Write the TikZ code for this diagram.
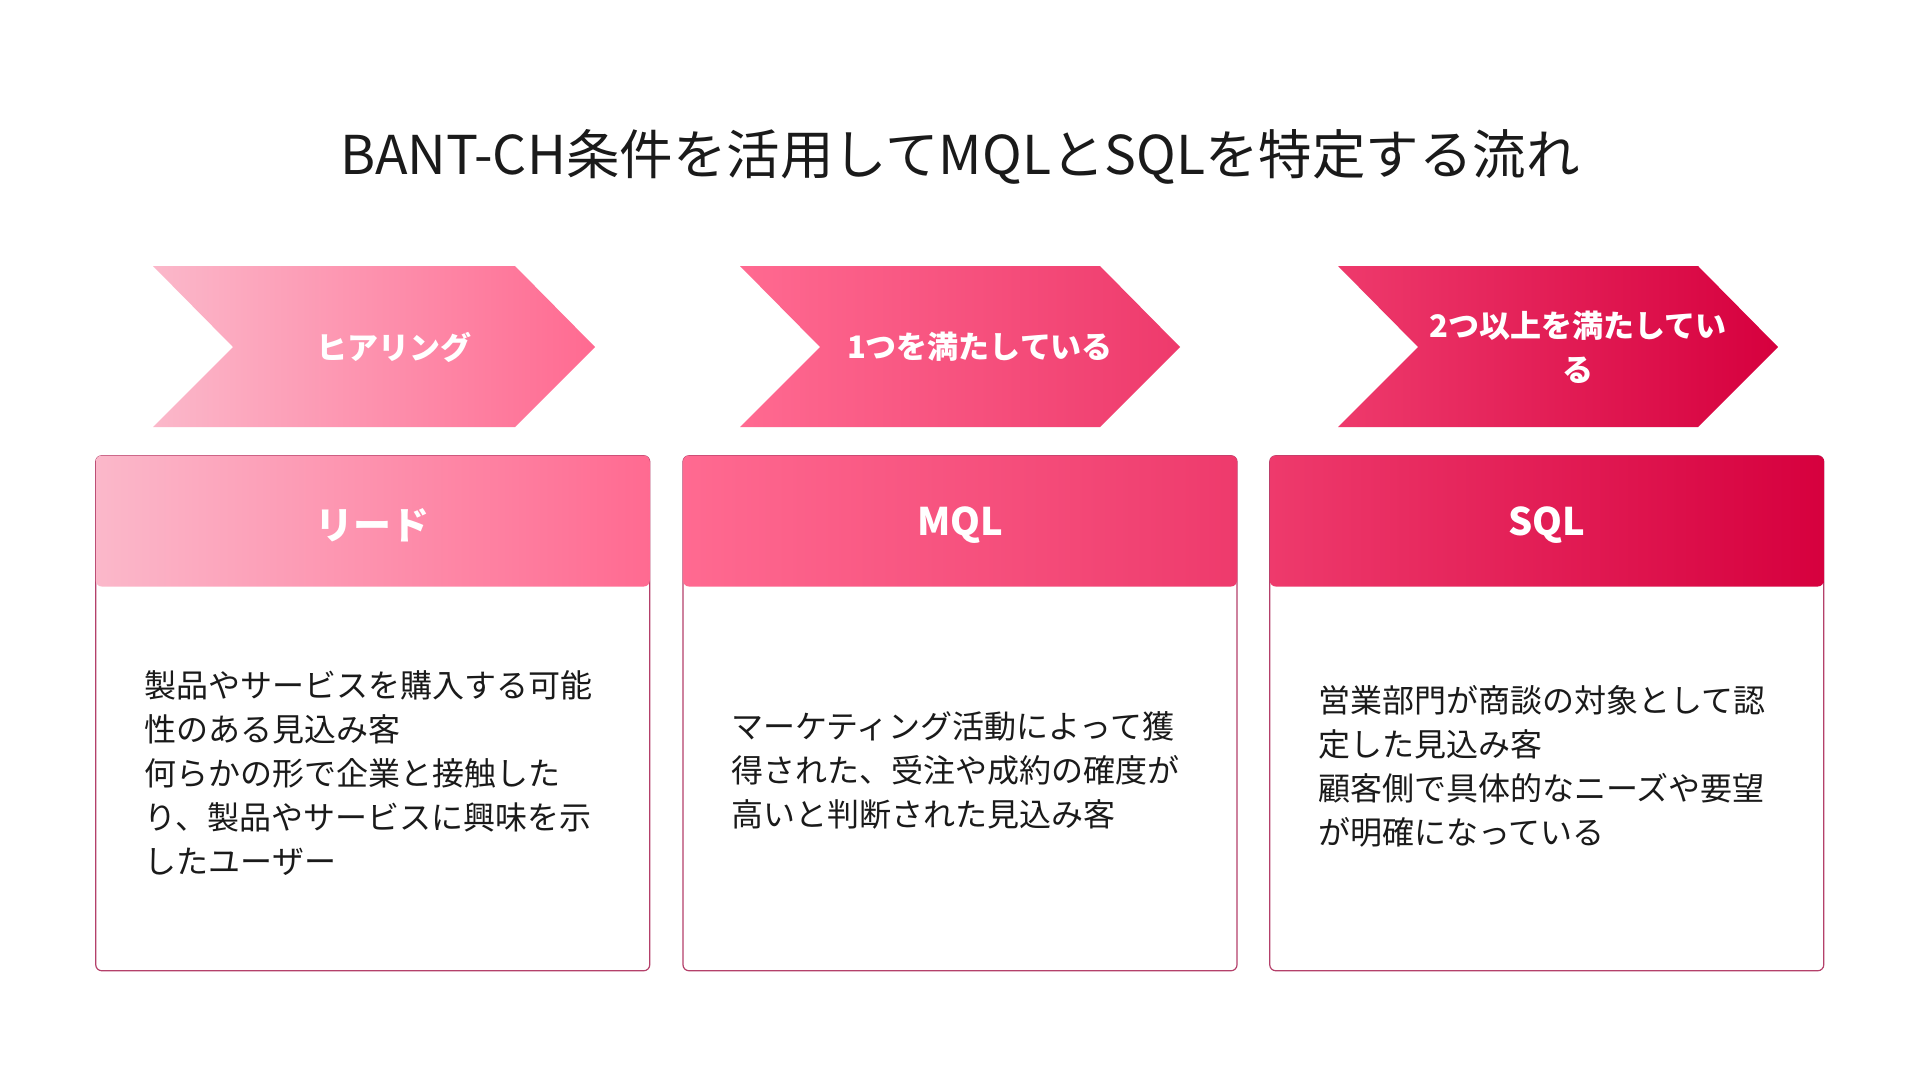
\documentclass[tikz,border=0pt]{standalone}
\usepackage{fontspec}
\setmainfont{Noto Sans CJK JP}
\usepackage{xcolor}
\usepackage{tikz}

\definecolor{pinkA}{HTML}{FBB8CA}
\definecolor{pinkB}{HTML}{FF6A91}
\definecolor{pinkC}{HTML}{EE3A6C}
\definecolor{pinkD}{HTML}{D6003E}
\definecolor{cardline}{HTML}{B4406A}
\definecolor{inkblack}{HTML}{1A1A1A}

\begin{document}
\begin{tikzpicture}[x=1pt,y=-1pt,
    hdr/.style={rounded corners=6pt, minimum width=554pt, minimum height=131pt, inner sep=0pt},
    hdrlabel/.style={inner sep=0pt, text=white, font=\fontsize{38}{44}\selectfont\bfseries},
    card/.style={draw=cardline, line width=1.2pt, rounded corners=6pt, fill=white,
                 minimum width=554pt, minimum height=515pt, inner sep=0pt},
    body/.style={anchor=west, align=left, inner sep=0pt, text=inkblack,
                 font=\fontsize{32}{44}\selectfont},
    tag/.style={align=center, inner sep=0pt, text=white, font=\fontsize{31}{44}\selectfont\bfseries}]
            \useasboundingbox (0,0) rectangle (1920,1080);
            \fill[white] (0,0) rectangle (1920,1080);

            \node[text=inkblack, font=\fontsize{53.5}{60}\selectfont] (title) at (960,157) {BANT-CH条件を活用してMQLとSQLを特定する流れ};

            % chevrons
            \shade[left color=pinkA, right color=pinkB] (153,266) -- (515,266) -- (595,347) -- (515,427) -- (153,427) -- (233,347) -- cycle;
            \shade[left color=pinkB, right color=pinkC] (740,266) -- (1100,266) -- (1180,347) -- (1100,427) -- (740,427) -- (820,347) -- cycle;
            \shade[left color=pinkC, right color=pinkD] (1338,266) -- (1698,266) -- (1778,347) -- (1698,427) -- (1338,427) -- (1418,347) -- cycle;

            \node[tag] (tag1) at (394,347) {ヒアリング};
            \node[tag] (tag2) at (980,347) {1つを満たしている};
            \node[tag] (tag3) at (1578,347) {2つ以上を満たしてい\\る};

            % cards
            \node[card] (card1) at (372.75,713.25) {};
            \node[card] (card2) at (960,713.25) {};
            \node[card] (card3) at (1546.75,713.25) {};

            \node[hdr, left color=pinkA, right color=pinkB] (hd1) at (372.75,521) {};
            \node[hdr, left color=pinkB, right color=pinkC] (hd2) at (960,521) {};
            \node[hdr, left color=pinkC, right color=pinkD] (hd3) at (1546.75,521) {};
            \node[hdrlabel] (lbl1) at (372.75,525) {リード};
            \node[hdrlabel] (lbl2) at (960,525) {MQL};
            \node[hdrlabel] (lbl3) at (1546.75,525) {SQL};

            \node[body] (txt1) at (144.5,773) {製品やサービスを購入する可能\\性のある見込み客\\何らかの形で企業と接触した\\り、製品やサービスに興味を示\\したユーザー};
            \node[body] (txt2) at (731,770) {マーケティング活動によって獲\\得された、受注や成約の確度が\\高いと判断された見込み客};
            \node[body] (txt3) at (1318,766.5) {営業部門が商談の対象として認\\定した見込み客\\顧客側で具体的なニーズや要望\\が明確になっている};
         \end{tikzpicture}
\end{document}
